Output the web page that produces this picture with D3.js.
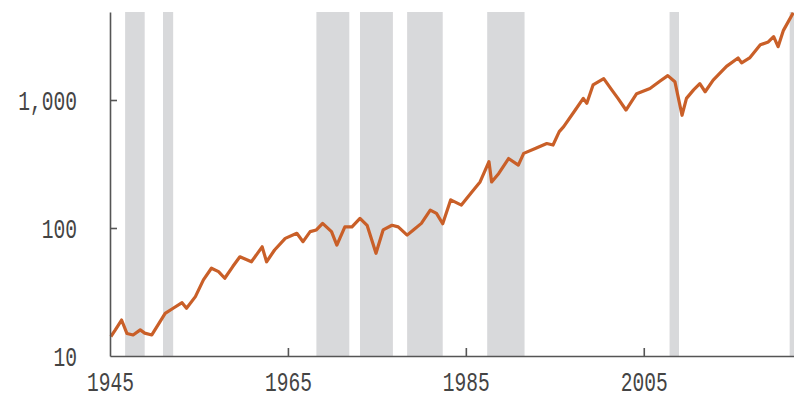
<!DOCTYPE html>
<html>
<head>
<meta charset="utf-8">
<script src="https://cdn.jsdelivr.net/npm/d3@7"></script>
<style>
  body { margin: 0; background: #fff; }
  svg { display: block; }
</style>
</head>
<body>
<svg></svg>
<script>
// index level (log scale)
let years = [1945.1, 1945.6, 1946.3, 1946.9, 1947.6, 1948.4, 1948.9, 1949.7, 1950.4, 1951.2,
  1952.1, 1953.1, 1953.6, 1954.6, 1955.5, 1956.4, 1957.2, 1957.9, 1958.8, 1959.6,
  1960.9, 1962.1, 1962.6, 1963.5, 1964.7, 1966.0, 1966.7, 1967.5, 1968.2, 1968.9,
  1969.9, 1970.5, 1971.4, 1972.2, 1973.1, 1973.9, 1974.9, 1975.7, 1976.7, 1977.4,
  1978.4, 1979.1, 1980.0, 1981.0, 1981.7, 1982.4, 1983.3, 1984.5, 1985.7, 1986.6,
  1987.6, 1987.9, 1988.7, 1989.8, 1990.9, 1991.5, 1992.8, 1994.1, 1994.8, 1995.5,
  1996.0, 1997.3, 1998.2, 1998.6, 1999.3, 2000.5, 2001.4, 2002.1, 2003.0, 2004.2,
  2005.7, 2006.8, 2007.7, 2008.5, 2009.3, 2009.8, 2010.6, 2011.3, 2011.9, 2012.8,
  2014.3, 2015.6, 2016.0, 2016.9, 2018.1, 2019.0, 2019.6, 2020.1, 2020.7, 2021.8];

let values = [14.2, 16, 19.1, 15.0, 14.6, 16, 15.1, 14.6, 17.5, 21.5,
  23.6, 26.1, 23.6, 29.1, 39.3, 48.5, 45.6, 40.5, 50, 59.6,
  54.5, 71.3, 54.5, 67.3, 83, 90.9, 78.2, 93.7, 96.6, 108.7,
  93.7, 73.6, 102, 102, 119, 105, 63.4, 96.6, 105, 102,
  88, 96.6, 108.7, 138, 130, 108, 166, 151, 192, 229,
  330, 229, 267, 349, 310, 383, 418, 457, 445, 566,
  620, 835, 1030, 942, 1310, 1470, 1200, 1030, 835, 1120,
  1230, 1400, 1550, 1390, 760, 1030, 1200, 1340, 1160, 1430,
  1830, 2130, 1950, 2130, 2700, 2840, 3130, 2610, 3500, 4800];

// shaded periods (start, end)
let bandStart = [1946.7, 1950.96, 1968.2, 1973.1, 1978.4, 1987.4, 2007.9, 2021.4];
let bandEnd   = [1948.9, 1952.1, 1971.9, 1976.8, 1982.4, 1991.6, 2008.96, 2022];

let xTicks = [1945, 1965, 1985, 2005];
let yTicks = [10, 100, 1000];

let W = 794, H = 401;
let margin = {top: 12, right: -1, bottom: 45, left: 110};
let width = W - margin.left - margin.right;
let height = H - margin.top - margin.bottom;

let svg = d3.select("svg")
    .attr("width", W)
    .attr("height", H);

let g = svg.append("g")
    .attr("transform", "translate(" + margin.left + "," + margin.top + ")");

let x = d3.scaleLinear().domain([1945, 2022]).range([0, width]);
let y = d3.scaleLog().domain([10, 4870]).range([height, 0]);

// gray bands
g.selectAll(".band")
    .data(bandStart)
    .join("rect")
    .attr("class", "band")
    .attr("x", d => x(d))
    .attr("y", 0)
    .attr("width", (d, i) => x(bandEnd[i]) - x(d))
    .attr("height", height)
    .style("fill", "#d8d9db");

// the line
let data = years.map((d, i) => ({yr: d, v: values[i]}));
let line = d3.line()
    .x(d => x(d.yr))
    .y(d => y(d.v));

g.append("path")
    .datum(data)
    .attr("d", line)
    .style("fill", "none")
    .style("stroke", "#c95f28")
    .style("stroke-width", 3.2)
    .style("stroke-linejoin", "round");

let sx = 0.70; // squeeze the mono font

// x axis, ticks pointing up
let xAxis = g.append("g")
    .attr("transform", "translate(0," + height + ")")
    .call(d3.axisBottom(x).tickValues(xTicks).tickFormat(d3.format("d")).tickSize(-8).tickSizeOuter(0));

// y axis, ticks pointing right
let yAxis = g.append("g")
    .call(d3.axisLeft(y).tickValues(yTicks).tickFormat(d3.format(",")).tickSize(-7).tickSizeOuter(0));

[xAxis, yAxis].forEach(a => {
    a.select(".domain").style("stroke", "#555").style("stroke-width", 1.6);
    a.selectAll(".tick line").style("stroke", "#555").style("stroke-width", 1.6);
    a.selectAll(".tick text")
        .style("font-family", "Liberation Mono, DejaVu Sans Mono, monospace")
        .style("font-size", "28px")
        .style("fill", "#444");
});

xAxis.selectAll(".tick text")
    .attr("y", 15)
    .attr("dy", "0.71em")
    .attr("transform", "scale(" + sx + ",1)");

// no inner tick at the corner
xAxis.selectAll(".tick").filter(d => d == 1945).select("line").remove();
yAxis.selectAll(".tick").filter(d => d == 10).select("line").remove();

yAxis.selectAll(".tick text")
    .attr("x", -33 / sx)
    .attr("dy", "0.35em")
    .attr("transform", "scale(" + sx + ",1)");
</script>
</body>
</html>
